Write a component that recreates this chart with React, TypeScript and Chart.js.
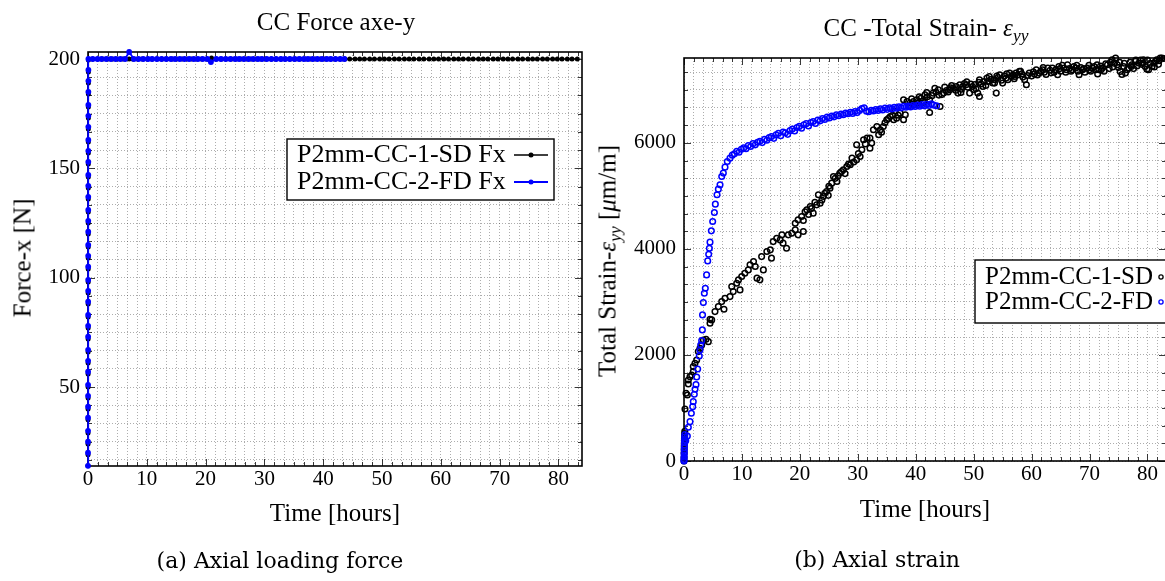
import React, { useEffect, useRef } from 'react';
import { Chart, registerables } from 'chart.js';

Chart.register(...registerables);

const SERIF = '"Liberation Serif", "Times New Roman", Times, serif';
const CAPTION_FONT = '"DejaVu Serif", serif';

// ---------------- DATA ----------------
// Left plot: axial force (time [h], force [N])
const forceSdLabel = 'P2mm-CC-1-SD Fx';
const forceFdLabel = 'P2mm-CC-2-FD Fx';

const forceSdPoints: [number, number][] = [
  [0.000, 14], [0.002, 19], [0.004, 24], [0.006, 29], [0.008, 35], [0.010, 40], [0.012, 45], [0.014, 50], [0.016, 56], [0.018, 61],
  [0.020, 66], [0.022, 72], [0.024, 77], [0.026, 82], [0.028, 88], [0.030, 93], [0.032, 98], [0.034, 104], [0.036, 109], [0.038, 114],
  [0.040, 120], [0.042, 125], [0.044, 130], [0.046, 136], [0.048, 141], [0.050, 146], [0.052, 152], [0.054, 157], [0.056, 162], [0.058, 168],
  [0.060, 173], [0.062, 178], [0.064, 184], [0.066, 189], [0.068, 194], [0.070, 199.5],
  [0.8, 200], [1.7, 200], [2.5, 200], [3.4, 200], [4.2, 200], [5.0, 200], [5.9, 200], [7.0, 200], [7.6, 200], [8.4, 200],
  [9.2, 200], [10.1, 200], [10.9, 200], [11.8, 200], [12.6, 200], [13.4, 200], [14.3, 200], [15.1, 200], [16.0, 200], [16.8, 200],
  [17.6, 200], [18.5, 200], [19.3, 200], [20.2, 200], [21.0, 200.5], [21.8, 200], [22.7, 200], [23.5, 200], [24.4, 200], [25.2, 200],
  [26.0, 200], [26.9, 200], [27.7, 200], [28.6, 200], [29.4, 200], [30.2, 200], [31.1, 200], [31.9, 200], [32.8, 200], [33.6, 200],
  [34.4, 200], [35.3, 200], [36.1, 200], [37.0, 200], [37.8, 200], [38.6, 200], [39.5, 200], [40.3, 200], [41.2, 200], [42.0, 200],
  [42.8, 200], [43.7, 200], [44.5, 200], [45.4, 200], [46.2, 200], [47.0, 200], [47.9, 200], [48.7, 200], [49.6, 200], [50.4, 200],
  [51.2, 200], [52.1, 200], [52.9, 200], [53.8, 200], [54.6, 200], [55.4, 200], [56.3, 200], [57.1, 200], [58.0, 200], [58.8, 200],
  [59.6, 200], [60.5, 200], [61.3, 200], [62.2, 200], [63.0, 200], [63.8, 200], [64.7, 200], [65.5, 200], [66.4, 200], [67.2, 200],
  [68.0, 200], [68.9, 200], [69.7, 200], [70.6, 200], [71.4, 200], [72.2, 200], [73.1, 200], [73.9, 200], [74.8, 200], [75.6, 200],
  [76.4, 200], [77.3, 200], [78.1, 200], [79.0, 200], [79.8, 200], [80.6, 200], [81.5, 200], [82.3, 200], [83.2, 200],
];

const forceFdPoints: [number, number][] = [
  [0.000, 14], [0.002, 20], [0.004, 25], [0.006, 30], [0.008, 36], [0.010, 41], [0.012, 46], [0.014, 51], [0.016, 57], [0.018, 62],
  [0.020, 67], [0.022, 73], [0.024, 78], [0.026, 83], [0.028, 89], [0.030, 94], [0.032, 99], [0.034, 105], [0.036, 110], [0.038, 115],
  [0.040, 121], [0.042, 126], [0.044, 131], [0.046, 137], [0.048, 142], [0.050, 147], [0.052, 153], [0.054, 158], [0.056, 163], [0.058, 169],
  [0.060, 174], [0.062, 179], [0.064, 185], [0.066, 190], [0.068, 195], [0.070, 200],
  [0.8, 200], [1.6, 200], [2.3, 200], [3.1, 200], [3.9, 200], [4.7, 200], [5.5, 200], [6.3, 200], [7.0, 203.2], [7.8, 200],
  [8.6, 200], [9.4, 200], [10.2, 200], [10.9, 200], [11.7, 200], [12.5, 200], [13.3, 200], [14.1, 200], [14.8, 200], [15.6, 200],
  [16.4, 200], [17.2, 200], [18.0, 200], [18.7, 200], [19.5, 200], [20.3, 200], [20.9, 198.6], [21.8, 200], [22.6, 200], [23.4, 200],
  [24.2, 200], [25.0, 200], [25.7, 200], [26.5, 200], [27.3, 200], [28.1, 200], [28.9, 200], [29.6, 200], [30.4, 200], [31.2, 200],
  [32.0, 200], [32.8, 200], [33.5, 200], [34.3, 200], [35.1, 200], [35.9, 200], [36.7, 200], [37.4, 200], [38.2, 200], [39.0, 200],
  [39.8, 200], [40.6, 200], [41.3, 200], [42.1, 200], [42.9, 200], [43.6, 200],
];

// Right plot: total strain (time [h], strain [µm/m])
const strainSdLabel = 'P2mm-CC-1-SD';
const strainFdLabel = 'P2mm-CC-2-FD';

const strainSdPoints: [number, number][] = [
  [0.00, 0], [0.01, 60], [0.02, 150], [0.03, 220], [0.04, 280], [0.05, 330], [0.06, 380], [0.08, 420], [0.10, 470], [0.12, 520],
  [0.14, 560], [0.17, 980], [0.35, 1277], [0.58, 1245], [0.75, 1453], [0.75, 1528], [1.04, 1591], [1.33, 1623], [1.6, 1685], [1.6, 1780],
  [1.9, 1843], [2.19, 1906], [2.47, 2063], [2.76, 2126], [3.05, 2189], [3.34, 2283], [3.8, 2296], [4.2, 2251], [4.49, 2598], [4.49, 2674],
  [4.78, 2661], [5.35, 2817], [5.93, 2912], [6.51, 3006], [6.9, 2862], [7.08, 3070], [7.94, 3100], [8.24, 3289], [8.5, 3195], [9.1, 3353],
  [9.4, 3415], [9.67, 3227], [9.96, 3478], [10.5, 3542], [11.1, 3604], [11.4, 3699], [12.0, 3761], [12.3, 3667], [12.6, 3448], [13.1, 3416],
  [13.4, 3855], [13.7, 3604], [14.3, 3950], [14.9, 3982], [15.1, 3825], [15.4, 4138], [16.0, 4202], [16.6, 4170], [16.9, 4265], [17.1, 4108],
  [17.7, 4013], [18.0, 4265], [18.6, 4296], [19.2, 4359], [19.2, 4485], [19.7, 4265], [19.7, 4548], [20.3, 4610], [20.6, 4327], [20.6, 4535],
  [21.2, 4736], [21.8, 4799], [22.3, 4674], [22.9, 4831], [23.2, 5020], [23.5, 4863], [24.05, 4988], [24.6, 5082], [25.2, 5146], [25.5, 5240],
  [25.8, 5365], [26.4, 5271], [26.9, 5429], [27.5, 5491], [28.1, 5554], [28.7, 5586], [29.0, 5711], [29.8, 5680], [29.8, 5963], [30.4, 5742],
  [30.7, 5869], [31.0, 6057], [31.6, 6089], [32.1, 5900], [32.1, 6089], [32.4, 5995], [32.7, 6246], [33.3, 6309], [33.6, 6152], [33.9, 6246],
  [34.4, 6309], [35.0, 6435], [35.6, 6497], [36.2, 6435], [36.7, 6466], [37.3, 6560], [37.9, 6435], [37.9, 6812], [38.2, 6529], [38.5, 6780],
  [39.0, 6750], [39.6, 6780], [40.2, 6812], [40.4, 6750], [40.9, 6840], [41.2, 6790], [41.6, 6906], [42.0, 6870], [42.4, 6812], [42.4, 6573],
  [43.0, 6938], [43.5, 6960], [43.9, 7001], [44.2, 6686], [44.5, 6910], [44.8, 6938], [45.3, 6985], [45.9, 7001], [46.0, 7040], [46.5, 7032],
  [46.9, 6990], [47.3, 6938], [47.6, 7095], [47.9, 7010], [48.1, 7063], [48.4, 7120], [48.7, 7095], [49.0, 7050], [49.3, 6938], [49.8, 7063],
  [50.2, 7100], [50.4, 7020], [50.7, 6938], [51.0, 6875], [51.0, 7189], [51.3, 7110], [51.6, 7063], [51.8, 7158], [52.1, 7080], [52.45, 7158],
  [52.7, 7252], [53.0, 7200], [53.6, 7189], [53.6, 7127], [53.9, 6938], [54.2, 7230], [54.5, 7284], [54.8, 7180], [55.0, 7127], [55.3, 7260],
  [55.6, 7221], [55.9, 7190], [56.2, 7315], [56.5, 7250], [56.8, 7284], [57.0, 7210], [57.3, 7315], [57.6, 7280], [57.9, 7347], [58.3, 7300],
  [58.5, 7240], [58.8, 7189], [59.1, 7095], [59.6, 7315], [60.0, 7260], [60.3, 7340], [60.8, 7378], [61.0, 7280], [61.3, 7315], [61.6, 7350],
  [61.9, 7378], [62.2, 7330], [62.5, 7290], [62.8, 7410], [63.2, 7370], [63.6, 7410], [63.9, 7330], [64.2, 7380], [64.5, 7284], [64.7, 7441],
  [65.0, 7350], [65.3, 7460], [65.6, 7410], [65.9, 7330], [66.2, 7473], [66.5, 7400], [66.8, 7350], [67.0, 7378], [67.3, 7440], [67.6, 7410],
  [68.0, 7350], [68.2, 7284], [68.5, 7420], [68.8, 7378], [69.2, 7330], [69.6, 7410], [69.9, 7460], [70.2, 7350], [70.5, 7410], [70.8, 7440],
  [71.1, 7378], [71.4, 7300], [71.6, 7378], [71.9, 7450], [72.2, 7410], [72.5, 7350], [72.8, 7490], [73.1, 7473], [73.4, 7400], [73.9, 7567],
  [74.2, 7500], [74.5, 7600], [74.8, 7473], [75.0, 7420], [75.3, 7347], [75.6, 7290], [75.9, 7440], [76.2, 7315], [76.5, 7380], [76.8, 7410],
  [77.0, 7520], [77.3, 7473], [77.6, 7400], [77.9, 7536], [78.2, 7450], [78.5, 7504], [78.8, 7560], [79.0, 7480], [79.3, 7567], [79.6, 7441],
  [79.9, 7390], [80.2, 7378], [80.5, 7500], [80.8, 7440], [81.1, 7504], [81.4, 7540], [81.6, 7567], [81.9, 7480], [82.2, 7600], [82.5, 7600],
  [82.8, 7590],
  [20.9, 4700], [21.5, 4650], [22.0, 4760], [22.6, 4880], [23.8, 4920], [24.3, 5050], [24.9, 5010], [25.0, 5180], [26.1, 5330], [26.6, 5380],
  [27.2, 5460], [27.8, 5420], [28.4, 5600], [29.3, 5640], [30.1, 5800], [31.3, 5980], [34.1, 6200], [34.7, 6380], [35.3, 6460], [36.0, 6520],
  [36.4, 6600], [37.0, 6520], [38.8, 6700], [39.3, 6830], [39.9, 6720], [40.6, 6870], [41.4, 6760], [41.9, 6950], [42.8, 6890], [43.3, 7030],
  [44.0, 6900], [45.0, 7050], [45.6, 6960], [46.2, 7080], [47.0, 7060], [47.8, 6950], [48.8, 7150], [49.5, 7110], [50.0, 7000], [50.9, 7140],
  [52.3, 7220], [53.3, 7130], [54.0, 7260], [55.7, 7300], [57.1, 7250], [58.1, 7350], [59.3, 7270], [60.5, 7300], [62.0, 7420], [63.4, 7320],
  [64.9, 7400], [66.0, 7380], [67.8, 7460], [69.0, 7400], [70.0, 7380], [71.3, 7470], [72.0, 7380], [73.6, 7520], [74.0, 7430], [75.2, 7520],
  [76.0, 7500], [77.2, 7440], [78.0, 7560], [79.2, 7500], [80.0, 7560], [81.2, 7430], [82.0, 7550],
];

const strainFdPoints: [number, number][] = [
  [0.00, 0], [0.01, 30], [0.02, 70], [0.03, 110], [0.04, 150], [0.05, 200], [0.06, 250], [0.07, 300], [0.08, 350], [0.10, 400],
  [0.12, 450], [0.15, 500], [0.30, 380], [0.58, 470], [0.75, 636], [1.04, 742], [1.27, 900], [1.5, 1025], [1.6, 1119], [1.78, 1258],
  [1.9, 1353], [2.07, 1440], [2.19, 1585], [2.36, 1736], [2.64, 1981], [2.76, 2094], [2.88, 2189], [3.05, 2270], [3.17, 2472], [3.2, 2755],
  [3.34, 2987], [3.51, 3164], [3.68, 3259], [3.9, 3510], [4.09, 3774], [4.26, 3900], [4.38, 4013], [4.49, 4127], [4.72, 4340], [4.95, 4516],
  [5.24, 4686], [5.41, 4844], [5.7, 5020], [5.93, 5127], [6.22, 5208], [6.51, 5365], [6.79, 5429], [7.08, 5542], [7.48, 5648], [7.94, 5711],
  [8.34, 5768], [8.7, 5795], [9.1, 5840], [9.5, 5822], [9.9, 5880], [10.3, 5905], [10.7, 5890], [11.1, 5948], [11.5, 5930], [11.9, 5985],
  [12.3, 5962], [12.7, 6010], [13.1, 6030], [13.5, 6005], [13.9, 6065], [14.3, 6050], [14.7, 6098], [15.1, 6120], [15.5, 6085], [15.9, 6150],
  [16.3, 6180], [16.7, 6135], [17.1, 6205], [17.5, 6190], [17.9, 6160], [18.3, 6230], [18.7, 6262], [19.1, 6225], [19.5, 6290], [19.9, 6310],
  [20.3, 6275], [20.7, 6340], [21.1, 6362], [21.5, 6318], [21.9, 6385], [22.3, 6402], [22.7, 6365], [23.1, 6430], [23.5, 6415], [23.9, 6458],
  [24.3, 6440], [24.7, 6485], [25.1, 6470], [25.5, 6505], [25.9, 6490], [26.3, 6528], [26.7, 6512], [27.1, 6545], [27.5, 6530], [27.9, 6560],
  [28.3, 6548], [28.7, 6575], [29.1, 6555], [29.5, 6590], [29.9, 6570], [30.3, 6612], [30.7, 6645], [31.1, 6660], [31.5, 6598], [31.9, 6585],
  [32.3, 6615], [32.7, 6600], [33.1, 6630], [33.5, 6610], [33.9, 6642], [34.3, 6620], [34.7, 6655], [35.1, 6632], [35.5, 6662], [35.9, 6640],
  [36.3, 6670], [36.7, 6652], [37.1, 6680], [37.5, 6660], [37.9, 6688], [38.3, 6670], [38.7, 6695], [39.1, 6678], [39.5, 6702], [39.9, 6685],
  [40.3, 6712], [40.7, 6690], [41.1, 6720], [41.5, 6698], [41.9, 6725], [42.3, 6705], [42.7, 6735], [43.1, 6712], [43.6, 6700],
];

// Axis ticks (major, labelled) and ranges
const timeMajorTicks = [0, 10, 20, 30, 40, 50, 60, 70, 80];
const forceMajorTicks = [50, 100, 150, 200];
const strainMajorTicks = [0, 2000, 4000, 6000];
const forceTimeRange = [0, 84];
const forceRange = [13.9, 203.2];
const strainTimeRange = [0, 83.2];
const strainRange = [0, 7600];
const MINOR_DIV = 6; // 5 minor ticks between majors

// ---------------- HELPERS ----------------
function buildTicks(majors: number[], min: number, max: number) {
  const majorStep = majors[1] - majors[0];
  const step = majorStep / MINOR_DIV;
  const k0 = Math.ceil((min - majors[0]) / step - 1e-9);
  const k1 = Math.floor((max - majors[0]) / step + 1e-9);
  const ticks: any[] = [];
  for (let k = k0; k <= k1; k++) {
    const isMajor = ((k % MINOR_DIV) + MINOR_DIV) % MINOR_DIV === 0;
    const value = isMajor ? majors[0] + (k / MINOR_DIV) * majorStep : majors[0] + k * step;
    const labelled = isMajor && majors.some((m) => Math.abs(m - value) < 1e-6);
    ticks.push({ value, isMajor, labelled });
  }
  return ticks;
}

function axisOptions(majors: number[], range: number[], axis: 'x' | 'y', size: number, padding: number) {
  return {
    type: 'linear',
    position: axis === 'x' ? 'bottom' : 'left',
    min: range[0],
    max: range[1],
    bounds: 'data',
    afterBuildTicks: (scale: any) => {
      scale.ticks = buildTicks(majors, range[0], range[1]);
    },
    afterFit: (scale: any) => {
      if (axis === 'x') scale.height = size;
      else scale.width = size;
    },
    grid: {
      color: 'rgba(0,0,0,0.32)',
      lineWidth: 1,
      drawTicks: false,
      drawOnChartArea: true,
    },
    border: { display: false, dash: [1, 2] },
    ticks: {
      autoSkip: false,
      maxRotation: 0,
      minRotation: 0,
      padding,
      color: '#000',
      font: { family: SERIF, size: 21 },
      callback: (v: number, i: number, ticks: any[]) =>
        ticks[i] && ticks[i].labelled ? String(Math.round(v)) : '',
    },
  };
}

const framePlugin = {
  id: 'pgfFrame',
  beforeDatasetsDraw(chart: any) {
    const { ctx, chartArea: a, scales } = chart;
    const line = (x1: number, y1: number, x2: number, y2: number) => {
      ctx.beginPath();
      ctx.moveTo(x1, y1);
      ctx.lineTo(x2, y2);
      ctx.stroke();
    };
    ctx.save();
    ctx.strokeStyle = '#222';
    ctx.lineWidth = 0.9;
    scales.x.ticks.forEach((t: any) => {
      const px = Math.round(scales.x.getPixelForValue(t.value)) + 0.5;
      const len = t.isMajor ? 7 : 4;
      line(px, a.bottom, px, a.bottom - len);
      line(px, a.top, px, a.top + len);
    });
    scales.y.ticks.forEach((t: any) => {
      const py = Math.round(scales.y.getPixelForValue(t.value)) + 0.5;
      const len = t.isMajor ? 7 : 4;
      line(a.left, py, a.left + len, py);
      line(a.right, py, a.right - len, py);
    });
    ctx.strokeStyle = '#000';
    ctx.lineWidth = 1.6;
    ctx.strokeRect(a.left, a.top, a.right - a.left, a.bottom - a.top);
    ctx.restore();
  },
};

function legendPlugin(cfg: any) {
  return {
    id: 'insideLegend',
    afterDatasetsDraw(chart: any) {
      const ctx = chart.ctx;
      ctx.save();
      ctx.fillStyle = '#fff';
      ctx.fillRect(cfg.left, cfg.top, cfg.width, cfg.height);
      ctx.strokeStyle = '#000';
      ctx.lineWidth = 1.4;
      ctx.strokeRect(cfg.left, cfg.top, cfg.width, cfg.height);
      ctx.font = `${cfg.fontSize}px ${SERIF}`;
      ctx.textBaseline = 'middle';
      ctx.textAlign = 'left';
      cfg.order.forEach((dsIndex: number, row: number) => {
        const ds = chart.data.datasets[dsIndex];
        const y = cfg.top + cfg.rows[row];
        ctx.fillStyle = '#000';
        ctx.fillText(ds.label, cfg.textX, y);
        if (cfg.kind === 'line') {
          ctx.strokeStyle = ds.borderColor;
          ctx.lineWidth = ds.borderWidth;
          ctx.beginPath();
          ctx.moveTo(cfg.markX - 17, y);
          ctx.lineTo(cfg.markX + 17, y);
          ctx.stroke();
          ctx.fillStyle = ds.pointBackgroundColor;
          ctx.beginPath();
          ctx.arc(cfg.markX, y, 2.5, 0, Math.PI * 2);
          ctx.fill();
        } else {
          ctx.strokeStyle = ds.pointBorderColor;
          ctx.lineWidth = 1.3;
          ctx.beginPath();
          ctx.arc(cfg.markX, y, 2.1, 0, Math.PI * 2);
          ctx.stroke();
        }
      });
      ctx.restore();
    },
  };
}

const toXY = (pts: [number, number][]) => pts.map((p) => ({ x: p[0], y: p[1] }));

const BLUE = 'rgb(0,0,255)';

function forceConfig(): any {
  return {
    type: 'scatter',
    data: {
      datasets: [
        {
          label: forceSdLabel,
          data: toXY(forceSdPoints),
          showLine: true,
          borderColor: '#000',
          borderWidth: 1.5,
          pointRadius: 2.5,
          pointBorderWidth: 0,
          pointBackgroundColor: '#000',
          clip: false,
          order: 1,
        },
        {
          label: forceFdLabel,
          data: toXY(forceFdPoints),
          showLine: true,
          borderColor: BLUE,
          borderWidth: 1.8,
          pointRadius: 2.9,
          pointBorderWidth: 0,
          pointBackgroundColor: BLUE,
          clip: false,
          order: 0,
        },
      ],
    },
    options: {
      responsive: false,
      animation: false,
      events: [],
      layout: { padding: { left: 0, top: 52, right: 18, bottom: 4 } },
      plugins: { legend: { display: false }, tooltip: { enabled: false }, title: { display: false } },
      scales: {
        x: axisOptions(timeMajorTicks, forceTimeRange, 'x', 30, 1),
        y: axisOptions(forceMajorTicks, forceRange, 'y', 88, 8),
      },
    },
    plugins: [
      framePlugin,
      legendPlugin({
        left: 287, top: 139, width: 267, height: 61, fontSize: 26,
        textX: 297, rows: [16, 43], markX: 531, kind: 'line', order: [0, 1],
      }),
    ],
  };
}

function strainConfig(): any {
  return {
    type: 'scatter',
    data: {
      datasets: [
        {
          label: strainSdLabel,
          data: toXY(strainSdPoints),
          pointRadius: 2.8,
          pointBorderWidth: 1.5,
          pointBorderColor: '#000',
          pointBackgroundColor: 'rgba(0,0,0,0)',
          borderColor: '#000',
          clip: false,
          order: 1,
        },
        {
          label: strainFdLabel,
          data: toXY(strainFdPoints),
          pointRadius: 2.8,
          pointBorderWidth: 1.5,
          pointBorderColor: BLUE,
          pointBackgroundColor: 'rgba(0,0,0,0)',
          borderColor: BLUE,
          clip: false,
          order: 0,
        },
      ],
    },
    options: {
      responsive: false,
      animation: false,
      events: [],
      layout: { padding: { left: 0, top: 58, right: 24, bottom: 9 } },
      plugins: { legend: { display: false }, tooltip: { enabled: false }, title: { display: false } },
      scales: {
        x: axisOptions(timeMajorTicks, strainTimeRange, 'x', 30, 1),
        y: axisOptions(strainMajorTicks, strainRange, 'y', 94, 8),
      },
    },
    plugins: [
      framePlugin,
      legendPlugin({
        left: 385, top: 260, width: 230, height: 63, fontSize: 25,
        textX: 395, rows: [17, 42], markX: 571, kind: 'circle', order: [0, 1],
      }),
    ],
  };
}

// ---------------- COMPONENTS ----------------
function ChartCanvas({ makeConfig, left, top, width, height }: any) {
  const ref = useRef<HTMLCanvasElement>(null);
  useEffect(() => {
    const chart = new Chart(ref.current as HTMLCanvasElement, makeConfig());
    return () => chart.destroy();
  }, []);
  return (
    <canvas
      ref={ref}
      width={width}
      height={height}
      style={{ position: 'absolute', left, top, width, height, display: 'block' }}
    />
  );
}

function Text({ x, y, size, font, rotate, children }: any) {
  return (
    <div
      style={{
        position: 'absolute',
        left: x,
        top: y,
        transform: `translate(-50%, -50%)${rotate ? ' rotate(-90deg)' : ''}`,
        fontFamily: font || SERIF,
        fontSize: size,
        lineHeight: 1,
        whiteSpace: 'nowrap',
        color: '#000',
      }}
    >
      {children}
    </div>
  );
}

const Sub = ({ children }: any) => (
  <span style={{ fontSize: '70%', fontStyle: 'italic', position: 'relative', top: '0.3em' }}>{children}</span>
);

export default function App() {
  return (
    <div
      style={{
        position: 'fixed',
        left: 0,
        top: 0,
        width: 1165,
        height: 581,
        overflow: 'hidden',
        background: '#fff',
      }}
    >
      <ChartCanvas makeConfig={forceConfig} left={0} top={0} width={600} height={500} />
      <ChartCanvas makeConfig={strainConfig} left={590} top={0} width={600} height={500} />

      <Text x={336} y={21} size={25}>CC Force axe-y</Text>
      <Text x={926} y={27} size={25}>
        CC -Total Strain- <i>ε</i><Sub>yy</Sub>
      </Text>

      <Text x={335} y={512} size={25}>Time [hours]</Text>
      <Text x={925} y={508} size={25}>Time [hours]</Text>

      <Text x={22} y={258} size={25} rotate>Force-x [N]</Text>
      <Text x={607} y={261} size={25} rotate>
        Total Strain-<i>ε</i><Sub>yy</Sub> [<i>μ</i>m/m]
      </Text>

      <Text x={280} y={561} size={22} font={CAPTION_FONT}>(a) Axial loading force</Text>
      <Text x={877} y={560} size={22} font={CAPTION_FONT}>(b) Axial strain</Text>
    </div>
  );
}
